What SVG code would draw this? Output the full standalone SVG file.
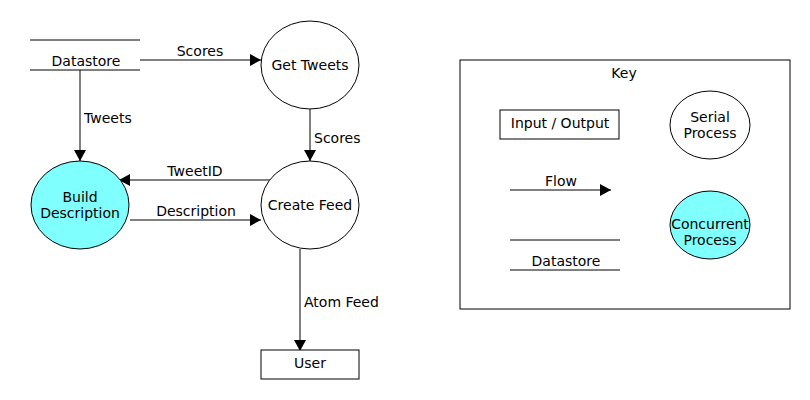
<svg xmlns="http://www.w3.org/2000/svg" width="810" height="400" viewBox="0 0 810 400">
<style>
text{font-family:"DejaVu Sans",sans-serif;font-size:14px;fill:#000}
.c{text-anchor:middle}
.s{fill:none;stroke:#000;stroke-width:1}
.p{fill:#fff;stroke:#000;stroke-width:1}
.q{fill:#80ffff;stroke:#000;stroke-width:1}
</style>
<defs>
<marker id="ah" markerWidth="11" markerHeight="12" refX="11" refY="6" orient="auto" markerUnits="userSpaceOnUse">
<path d="M0,0 L11,6 L0,12 z" fill="#000"/>
</marker>
</defs>
<rect width="810" height="400" fill="#fff"/>
<g id="connectors">
<line class="s" x1="140" y1="60" x2="261" y2="60" marker-end="url(#ah)"/>
<text class="c" x="200" y="56">Scores</text>
<line class="s" x1="80" y1="70" x2="80" y2="161" marker-end="url(#ah)"/>
<text x="84" y="123">Tweets</text>
<line class="s" x1="310" y1="109" x2="310" y2="161" marker-end="url(#ah)"/>
<text x="314" y="143">Scores</text>
<line class="s" x1="272" y1="180" x2="119" y2="180" marker-end="url(#ah)"/>
<text class="c" x="195" y="176">TweetID</text>
<line class="s" x1="130" y1="220" x2="261" y2="220" marker-end="url(#ah)"/>
<text class="c" x="196" y="216">Description</text>
<line class="s" x1="300" y1="249" x2="300" y2="351" marker-end="url(#ah)"/>
<text x="304" y="307">Atom Feed</text>
</g>
<g id="datastore">
<line class="s" x1="30" y1="40" x2="140" y2="40"/>
<line class="s" x1="30" y1="70" x2="140" y2="70"/>
<text class="c" x="86" y="66">Datastore</text>
</g>
<g id="get-tweets">
<ellipse class="p" cx="310" cy="65" rx="49" ry="44"/>
<text class="c" x="310" y="70">Get Tweets</text>
</g>
<g id="create-feed">
<ellipse class="p" cx="310" cy="205" rx="49" ry="44"/>
<text class="c" x="310" y="210">Create Feed</text>
</g>
<g id="build-description">
<ellipse class="q" cx="80" cy="205" rx="49" ry="44"/>
<text class="c" x="80" y="202">Build</text>
<text class="c" x="80" y="218">Description</text>
</g>
<g id="user">
<rect class="p" x="261" y="350" width="98" height="29"/>
<text class="c" x="310" y="368">User</text>
</g>
<g id="key">
<rect class="p" x="460" y="60" width="330" height="249"/>
<text class="c" x="624" y="78">Key</text>
<rect class="p" x="500" y="110" width="119" height="29"/>
<text class="c" x="560" y="128">Input / Output</text>
<ellipse class="p" cx="710" cy="125" rx="40" ry="34"/>
<text class="c" x="710" y="122">Serial</text>
<text class="c" x="710" y="138">Process</text>
<line class="s" x1="510" y1="190" x2="611" y2="190" marker-end="url(#ah)"/>
<text class="c" x="561" y="186">Flow</text>
<ellipse class="q" cx="710" cy="225" rx="40" ry="34"/>
<text class="c" x="710" y="229">Concurrent</text>
<text class="c" x="710" y="245">Process</text>
<line class="s" x1="510" y1="240" x2="620" y2="240"/>
<line class="s" x1="510" y1="270" x2="620" y2="270"/>
<text class="c" x="566" y="266">Datastore</text>
</g>
</svg>
